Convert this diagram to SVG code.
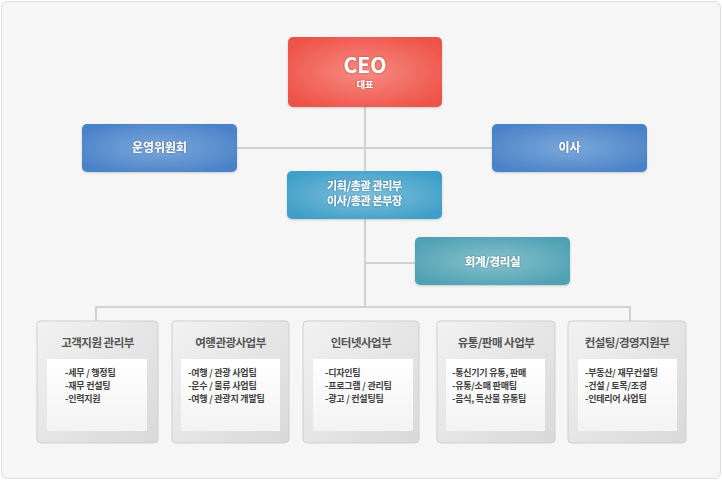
<svg xmlns="http://www.w3.org/2000/svg" width="722" height="481" viewBox="0 0 722 481">
<defs>
<radialGradient id="gRed" cx="50%" cy="50%" r="60%"><stop offset="0" stop-color="#f68c83"/><stop offset="1" stop-color="#ee5349"/></radialGradient>
<radialGradient id="gBlue" cx="50%" cy="50%" r="60%"><stop offset="0" stop-color="#7ca8da"/><stop offset="1" stop-color="#4a82c8"/></radialGradient>
<radialGradient id="gSky" cx="50%" cy="50%" r="60%"><stop offset="0" stop-color="#80c0dc"/><stop offset="1" stop-color="#3f9fc8"/></radialGradient>
<radialGradient id="gTeal" cx="50%" cy="50%" r="60%"><stop offset="0" stop-color="#88c1cc"/><stop offset="1" stop-color="#4fa1b4"/></radialGradient>
<linearGradient id="gGray" x1="0" y1="0" x2="1" y2="1"><stop offset="0" stop-color="#f2f2f2"/><stop offset="1" stop-color="#d9d9d9"/></linearGradient>
<linearGradient id="gWhite" x1="0" y1="0" x2="0" y2="1"><stop offset="0" stop-color="#ffffff"/><stop offset="1" stop-color="#f3f3f3"/></linearGradient>
<filter id="sh" x="-10%" y="-10%" width="120%" height="130%"><feDropShadow dx="0" dy="1" stdDeviation="1" flood-color="#000" flood-opacity="0.18"/></filter>
<filter id="glow" x="-20%" y="-40%" width="140%" height="180%"><feDropShadow dx="0" dy="0" stdDeviation="0.8" flood-color="#000" flood-opacity="0.35"/></filter>
</defs>
<style>
.w{fill:#fff;font-family:"Noto Sans CJK KR","Liberation Sans",sans-serif;font-weight:bold;text-anchor:middle;filter:url(#glow)}
.t{fill:#555;font-family:"Noto Sans CJK KR","Liberation Sans",sans-serif;font-weight:bold;font-size:11.5px;text-anchor:middle;letter-spacing:-0.5px}
.i{fill:#3f3f3f;font-family:"Noto Sans CJK KR","Liberation Sans",sans-serif;font-weight:bold;font-size:9px;letter-spacing:-0.2px}
.gbox{fill:url(#gGray);stroke:#cfcfcf;stroke-width:1}
.ibox{fill:url(#gWhite)}
.ln{stroke:#d2d2d2;stroke-width:2;fill:none}
</style>
<rect x="1.5" y="1.5" width="719" height="477" rx="6" fill="#f6f6f6" stroke="#dddddd"/>
<g id="connectors">
<path class="ln" d="M365 107 V307"/>
<path class="ln" d="M237 148 H492"/>
<path class="ln" d="M365 263 H415"/>
<path class="ln" d="M96 321 V307 H630 V321"/>
</g>
<g id="ceo"><rect x="288" y="37" width="154" height="70" rx="5" fill="url(#gRed)" filter="url(#sh)"/>
<text class="w" x="365" y="73" font-size="21" font-family="Liberation Sans">CEO</text>
<text class="w" x="365" y="88" font-size="9">대표</text></g>
<g id="committee"><rect x="82" y="124" width="155" height="48" rx="5" fill="url(#gBlue)" filter="url(#sh)"/>
<text class="w" x="159.5" y="152" font-size="12">운영위원회</text></g>
<g id="board"><rect x="492" y="124" width="155" height="48" rx="5" fill="url(#gBlue)" filter="url(#sh)"/>
<text class="w" x="569.5" y="152" font-size="12">이사</text></g>
<g id="planning"><rect x="287" y="171" width="155" height="48" rx="5" fill="url(#gSky)" filter="url(#sh)"/>
<text class="w" x="364.5" y="190" font-size="11" letter-spacing="-0.3">기획/총괄 관리부</text>
<text class="w" x="364.5" y="205" font-size="11" letter-spacing="-0.3">이사/총관 본부장</text></g>
<g id="accounting"><rect x="415" y="237" width="155" height="48" rx="5" fill="url(#gTeal)" filter="url(#sh)"/>
<text class="w" x="492.5" y="266" font-size="11.5" letter-spacing="-0.3">회계/경리실</text></g>
<g id="dept1"><rect class="gbox" x="37" y="321" width="121" height="122" rx="4"/>
<rect class="ibox" x="47" y="359" width="100" height="72"/>
<text class="t" x="97.5" y="347">고객지원 관리부</text>
<text class="i" x="65" y="376">-세무 / 행정팀</text>
<text class="i" x="65" y="389">-재무 컨설팅</text>
<text class="i" x="65" y="402">-인력지원</text></g>
<g id="dept2"><rect class="gbox" x="172" y="321" width="117" height="122" rx="4"/>
<rect class="ibox" x="181" y="359" width="99" height="72"/>
<text class="t" x="230.5" y="347">여행관광사업부</text>
<text class="i" x="188" y="376">-여행 / 관광 사업팀</text>
<text class="i" x="188" y="389">-운수 / 물류 사업팀</text>
<text class="i" x="188" y="402">-여행 / 관광지 개발팀</text></g>
<g id="dept3"><rect class="gbox" x="303" y="321" width="116" height="122" rx="4"/>
<rect class="ibox" x="313" y="359" width="100" height="72"/>
<text class="t" x="361" y="347">인터넷사업부</text>
<text class="i" x="325" y="376">-디자인팀</text>
<text class="i" x="325" y="389">-프로그램 / 관리팀</text>
<text class="i" x="325" y="402">-광고 / 컨설팅팀</text></g>
<g id="dept4"><rect class="gbox" x="437" y="321" width="118" height="122" rx="4"/>
<rect class="ibox" x="446" y="359" width="99" height="72"/>
<text class="t" x="496" y="347">유통/판매 사업부</text>
<text class="i" x="452" y="376">-통신기기 유통, 판매</text>
<text class="i" x="452" y="389">-유통/소매 판매팀</text>
<text class="i" x="452" y="402">-음식, 특산물 유통팀</text></g>
<g id="dept5"><rect class="gbox" x="568" y="321" width="118" height="122" rx="4"/>
<rect class="ibox" x="578" y="359" width="99" height="72"/>
<text class="t" x="627" y="347">컨설팅/경영지원부</text>
<text class="i" x="585" y="376">-부동산/ 재무컨설팅</text>
<text class="i" x="585" y="389">-건설 / 토목/조경</text>
<text class="i" x="585" y="402">-인테리어 사업팀</text></g>
</svg>
